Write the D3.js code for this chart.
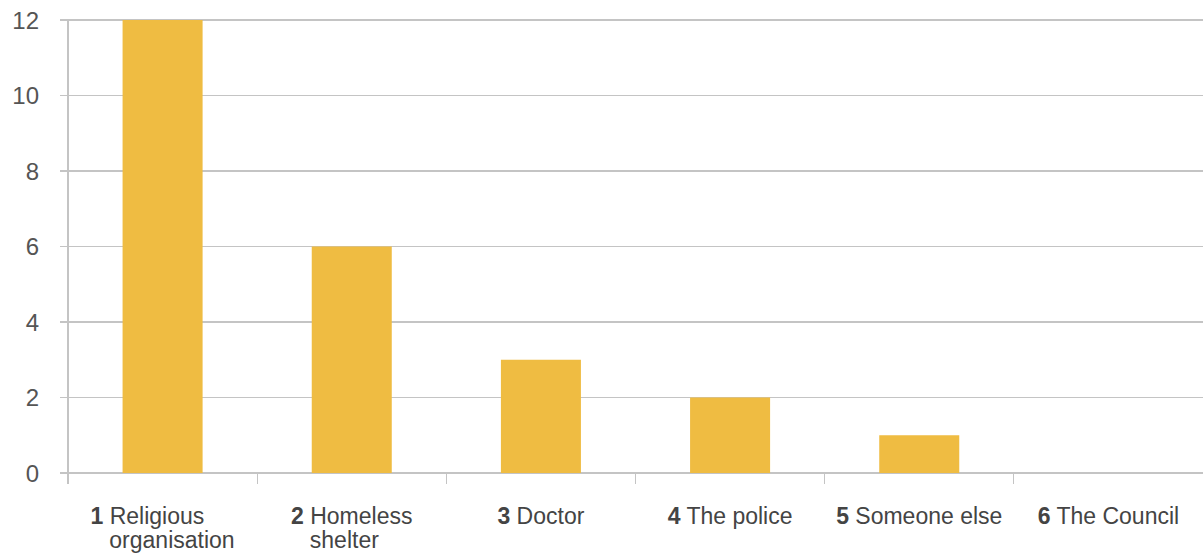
<!DOCTYPE html>
<html><head><meta charset="utf-8">
<script src="https://cdn.jsdelivr.net/npm/d3@7"></script>
<style>body{margin:0;background:#fff}svg{display:block}</style>
</head><body>
<svg id="c" width="1203" height="553"></svg>
<script>
const numbers = ["1","2","3","4","5","6"];
const categories = [["Religious","organisation"],["Homeless","shelter"],["Doctor"],["The police"],["Someone else"],["The Council"]];
const values = [12, 6, 3, 2, 1, 0];
const yTicks = [0, 2, 4, 6, 8, 10, 12];

(function () {
const svg = d3.select("#c");
const mLeft = 68, mRight = 1203, mTop = 20, mBottom = 473;
const font = "'Liberation Sans', Arial, sans-serif";
const labelSize = 23;

const x = d3.scaleBand().domain(numbers).range([mLeft, mRight]).paddingInner(0.577).paddingOuter(0.2885);
const y = d3.scaleLinear().domain([0, 12]).range([mBottom, mTop]);

// gridlines
svg.append("g").selectAll("line").data(yTicks).join("line")
  .attr("x1", mLeft - 8).attr("x2", mRight).attr("y1", d => y(d)).attr("y2", d => y(d))
  .attr("stroke", "#c4c4c4").attr("stroke-width", 1.2).attr("shape-rendering","crispEdges");

// y tick labels
svg.append("g").selectAll("text").data(yTicks).join("text")
  .attr("x", 39).attr("y", d => y(d)).attr("dy", "0.36em")
  .attr("text-anchor", "end").attr("font-family", font).attr("font-size", 24)
  .attr("fill", "#555").text(d => d);

// bars
svg.append("g").selectAll("rect").data(values).join("rect")
  .attr("x", (d, i) => x(numbers[i])).attr("width", x.bandwidth())
  .attr("y", d => y(d)).attr("height", d => y(0) - y(d))
  .attr("fill", "#EFBC42");

// y axis line
svg.append("line").attr("x1", mLeft).attr("x2", mLeft).attr("y1", mTop).attr("y2", mBottom + 11)
  .attr("stroke", "#c4c4c4").attr("stroke-width", 1.2).attr("shape-rendering","crispEdges");

// category boundary ticks
const step = x.step();
const gap = (step - x.bandwidth()) / 2;
svg.append("g").selectAll("line").data(numbers.slice(1)).join("line")
  .attr("x1", d => x(d) - gap).attr("x2", d => x(d) - gap)
  .attr("y1", mBottom).attr("y2", mBottom + 11)
  .attr("stroke", "#c4c4c4").attr("stroke-width", 1.2).attr("shape-rendering","crispEdges");

// category labels
const lineH = 24;
numbers.forEach((n, i) => {
  const cx = x(n) + x.bandwidth() / 2;
  const g = svg.append("g");
  const t1 = g.append("text").attr("y", 524).attr("font-family", font).attr("font-size", labelSize).attr("fill", "#444");
  t1.append("tspan").attr("font-weight", "bold").text(n);
  const numW = t1.node().getComputedTextLength();
  t1.append("tspan").text(" " + categories[i][0]);
  const w1 = t1.node().getComputedTextLength();
  const indent = numW + 6;
  const others = categories[i].slice(1).map((s, k) =>
    g.append("text").attr("y", 524 + lineH * (k + 1)).attr("font-family", font)
      .attr("font-size", labelSize).attr("fill", "#444").text(s));
  let bw = w1;
  others.forEach(o => { bw = Math.max(bw, indent + o.node().getComputedTextLength()); });
  const sx = cx - bw / 2;
  t1.attr("x", sx);
  others.forEach(o => o.attr("x", sx + indent));
});
})();
</script>
</body></html>
